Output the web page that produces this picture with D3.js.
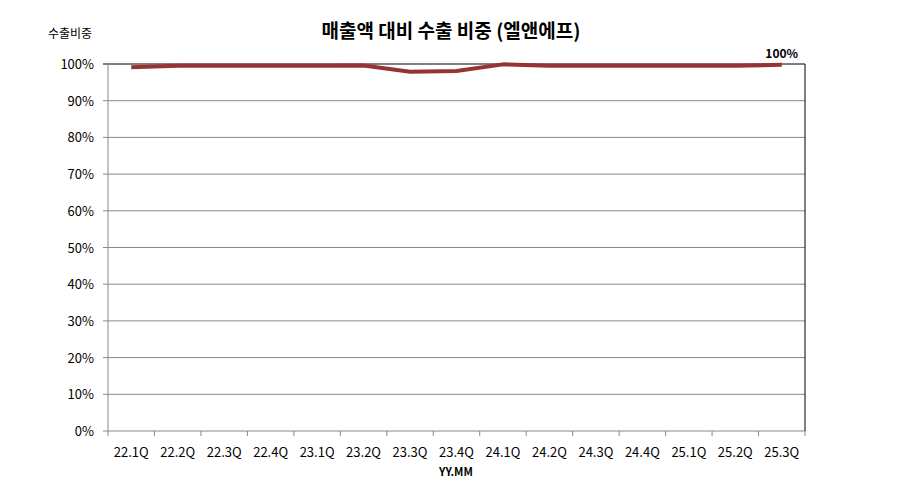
<!DOCTYPE html><html><head><meta charset="utf-8"><script src="https://cdn.jsdelivr.net/npm/d3@7"></script>
<style>body{margin:0;background:#fff}text{font-family:"Noto Sans CJK KR","Liberation Sans",sans-serif}</style></head><body><svg width="902" height="498"></svg>
<script>
const categories=["22.1Q","22.2Q","22.3Q","22.4Q","23.1Q","23.2Q","23.3Q","23.4Q","24.1Q","24.2Q","24.3Q","24.4Q","25.1Q","25.2Q","25.3Q"];
const values=[99.1,99.5,99.5,99.5,99.5,99.6,97.9,98.1,99.9,99.5,99.5,99.5,99.5,99.5,99.8];
const yTicks=[0,10,20,30,40,50,60,70,80,90,100];
const svg=d3.select("svg");
const L=108,R=805,T=64,B=431;
const x=d3.scaleBand().domain(categories).range([L,R]);
const y=d3.scaleLinear().domain([0,100]).range([B,T]);
svg.append("g").selectAll("line").data(yTicks).join("line").attr("x1",L-5).attr("x2",R).attr("y1",d=>y(d)).attr("y2",d=>y(d)).attr("stroke",d=>d===100?"#000":"#888").attr("stroke-width",1);
svg.append("line").attr("x1",R).attr("x2",R).attr("y1",T).attr("y2",B).attr("stroke","#000");
svg.append("line").attr("x1",L).attr("x2",L).attr("y1",T).attr("y2",B).attr("stroke","#888");
svg.append("g").selectAll("line").data(categories.concat(["end"])).join("line").attr("x1",(d,i)=>L+i*x.bandwidth()).attr("x2",(d,i)=>L+i*x.bandwidth()).attr("y1",B).attr("y2",B+5).attr("stroke","#888");
svg.append("g").selectAll("text").data(yTicks).join("text").attr("x",L-14).attr("y",d=>y(d)+5).attr("text-anchor","end").attr("font-size",13).text(d=>d+"%");
svg.append("g").selectAll("text").data(categories).join("text").attr("x",d=>x(d)+x.bandwidth()/2).attr("y",B+26).attr("text-anchor","middle").attr("font-size",13).text(d=>d);
svg.append("path").datum(values).attr("fill","none").attr("stroke","#993333").attr("stroke-width",4).attr("stroke-linejoin","round")
 .attr("d",d3.line().x((d,i)=>x(categories[i])+x.bandwidth()/2).y(d=>y(d)));
svg.append("text").attr("x",x(categories[14])+x.bandwidth()/2).attr("y",y(values[14])-7).attr("text-anchor","middle").attr("font-size",12).attr("font-weight","bold").text("100%");
svg.append("text").attr("x",451).attr("y",38).attr("text-anchor","middle").attr("font-size",19).attr("font-weight","bold").text("매출액 대비 수출 비중 (엘앤에프)");
svg.append("text").attr("x",70).attr("y",38).attr("text-anchor","middle").attr("font-size",12).text("수출비중");
svg.append("text").attr("x",456).attr("y",476).attr("text-anchor","middle").attr("font-size",11).attr("font-weight","bold").text("YY.MM");
</script></body></html>
